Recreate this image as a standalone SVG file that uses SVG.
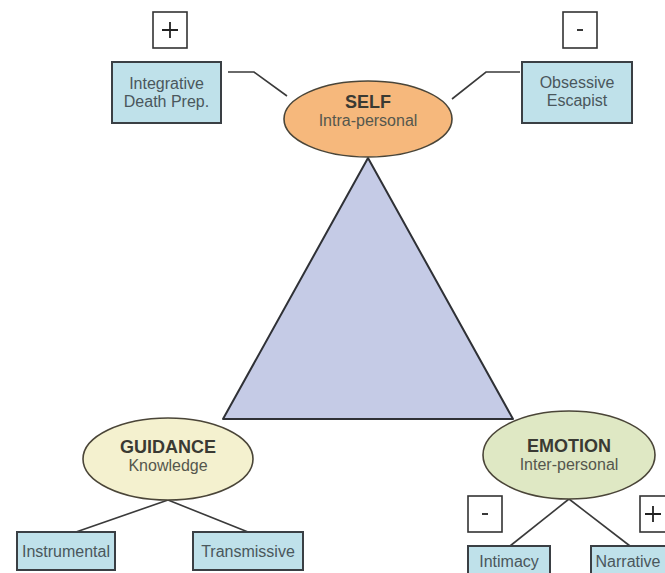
<svg xmlns="http://www.w3.org/2000/svg" width="665" height="573" viewBox="0 0 665 573">
<style>
.box{fill:#bfe1ea;stroke:#3a3f44;stroke-width:2}
.sign{fill:#ffffff;stroke:#333;stroke-width:1.6}
.ell{stroke:#4a4538;stroke-width:1.6}
.con{fill:none;stroke:#3a3a3a;stroke-width:1.6}
.bt{font-family:"Liberation Sans",Arial,sans-serif;font-size:16px;fill:#4a575c;text-anchor:middle}
.title{font-family:"Liberation Sans",Arial,sans-serif;font-size:18px;font-weight:bold;fill:#3a3a33;text-anchor:middle}
.sub{font-family:"Liberation Sans",Arial,sans-serif;font-size:16px;fill:#55574d;text-anchor:middle}
.sg{fill:none;stroke:#222;stroke-width:1.8}
</style>
<rect width="665" height="573" fill="#ffffff"/>
<g id="connectors">
<polyline class="con" points="228,72 254,72 287,96"/>
<polyline class="con" points="520,72 486,72 452,99"/>
<line class="con" x1="168" y1="500" x2="76" y2="532"/>
<line class="con" x1="168" y1="500" x2="248" y2="532"/>
<line class="con" x1="569" y1="499" x2="510" y2="546"/>
<line class="con" x1="569" y1="499" x2="630" y2="546"/>
</g>
<g id="triangle">
<polygon points="368,158 223,419 513,419" fill="#c5cbe6" stroke="#2f3136" stroke-width="2" stroke-linejoin="round"/>
</g>
<g id="self">
<ellipse class="ell" cx="368" cy="119" rx="84" ry="38" fill="#f6b87c"/>
<text class="title" x="368" y="108">SELF</text>
<text class="sub" x="368" y="126">Intra-personal</text>
</g>
<g id="guidance">
<ellipse class="ell" cx="168" cy="459" rx="85" ry="41" fill="#f4f1cf"/>
<text class="title" x="168" y="453">GUIDANCE</text>
<text class="sub" x="168" y="471">Knowledge</text>
</g>
<g id="emotion">
<ellipse class="ell" cx="569" cy="455" rx="86" ry="44" fill="#dfe8c4"/>
<text class="title" x="569" y="452">EMOTION</text>
<text class="sub" x="569" y="470">Inter-personal</text>
</g>
<g id="integrative">
<rect class="box" x="112" y="62" width="109" height="61"/>
<text class="bt" x="166.5" y="89">Integrative</text>
<text class="bt" x="166.5" y="107">Death Prep.</text>
</g>
<g id="plus-self">
<rect class="sign" x="153" y="12" width="34" height="36"/>
<path class="sg" d="M162,30 H178 M170,22 V38"/>
</g>
<g id="obsessive">
<rect class="box" x="522" y="62" width="110" height="61"/>
<text class="bt" x="577" y="88">Obsessive</text>
<text class="bt" x="577" y="106">Escapist</text>
</g>
<g id="minus-self">
<rect class="sign" x="563" y="12" width="34" height="36"/>
<path class="sg" d="M577,30 H583" stroke-width="2.4"/>
</g>
<g id="instrumental">
<rect class="box" x="17" y="532" width="98" height="38"/>
<text class="bt" x="66" y="557">Instrumental</text>
</g>
<g id="transmissive">
<rect class="box" x="193" y="532" width="110" height="38"/>
<text class="bt" x="248" y="557">Transmissive</text>
</g>
<g id="minus-emotion">
<rect class="sign" x="468" y="496" width="34" height="36"/>
<path class="sg" d="M482,514 H488" stroke-width="2.4"/>
</g>
<g id="plus-emotion">
<rect class="sign" x="640" y="496" width="34" height="36"/>
<path class="sg" d="M645,514 H661 M653,506 V522"/>
</g>
<g id="intimacy">
<rect class="box" x="468" y="546" width="82" height="40"/>
<text class="bt" x="509" y="567">Intimacy</text>
</g>
<g id="narrative">
<rect class="box" x="591" y="546" width="90" height="40"/>
<text class="bt" x="628" y="567">Narrative</text>
</g>
</svg>
